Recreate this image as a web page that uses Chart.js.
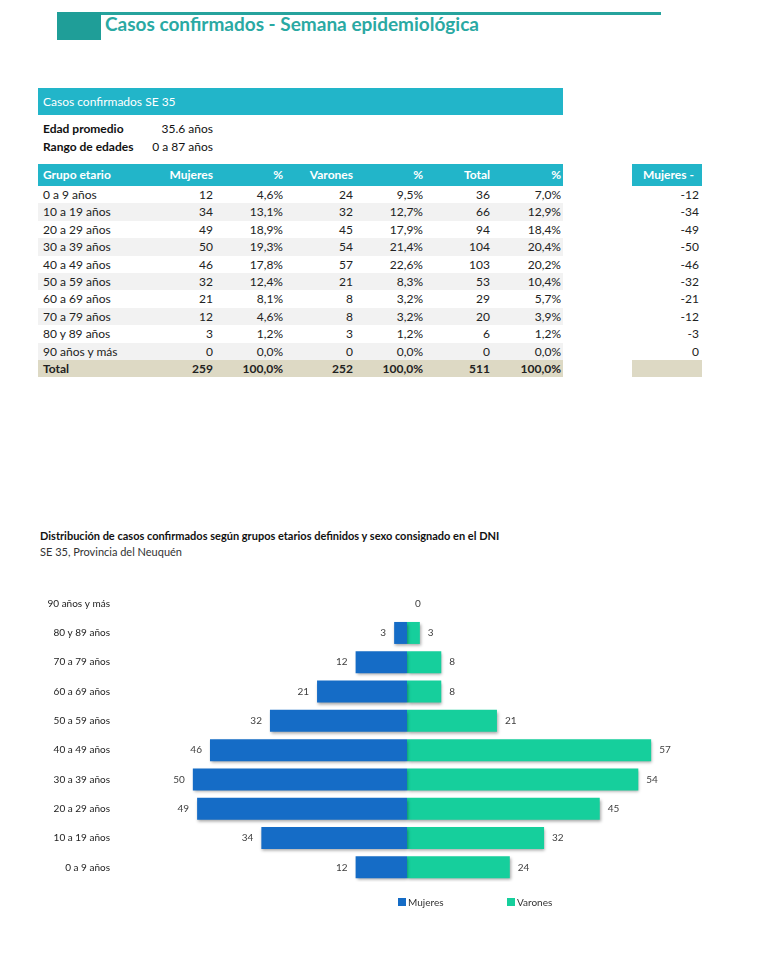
<!DOCTYPE html>
<html lang="es">
<head>
<meta charset="utf-8">
<script src="https://cdn.jsdelivr.net/npm/chart.js@4.4.1/dist/chart.umd.min.js"></script>
<style>
  body { margin: 0; background: #fff; font-family: Lato, "Open Sans", sans-serif; color: #222; }
  .abs { position: absolute; }
  #hdrLine { left: 57px; top: 12px; width: 604px; height: 3px; background: #26a39d; }
  #hdrBlock { left: 57px; top: 12px; width: 44px; height: 28px; background: #1f9e98; }
  #hdrTitle { left: 105px; top: 12px; font-size: 19px; font-weight: bold; color: #2aa9a3; white-space: nowrap; }
  #seBar { left: 38px; top: 88px; width: 525px; height: 27px; background: #22b5c9; color: #fff; font-size: 12px; line-height: 27px; padding-left: 5px; box-sizing: border-box; }
  .info { left: 43px; font-size: 12px; font-weight: bold; color: #111; }
  .infoVal { left: 140px; width: 73px; text-align: right; font-size: 12px; color: #111; }
  table { border-collapse: collapse; table-layout: fixed; font-size: 12px; color: #222; }
  td, th { padding: 0 2px 0 5px; height: 17.4px; line-height: 17.4px; text-align: right; white-space: nowrap; }
  th { background: #22b5c9; color: #fff; font-weight: bold; height: 22px; line-height: 22px; }
  th.l, td.l { text-align: left; }
  tr.alt td { background: #f2f2f2; }
  tr.tot td { background: #ddd9c4; font-weight: bold; }
  #tbl { left: 38px; top: 164px; width: 525px; }
  #tblNeg { left: 632px; top: 164px; width: 70px; }
  #tblNeg th { text-align: center; }
  #tblNeg td { padding-right: 3px; }
  #cTitle { left: 40px; top: 529px; font-size: 11px; font-weight: bold; color: #111; white-space: nowrap; }
  #cSub { left: 40px; top: 545px; font-size: 11px; color: #333; white-space: nowrap; }
  #myChart { position: absolute; left: 0; top: 585px; }
</style>
</head>
<body>
<div class="abs" id="hdrLine"></div>
<div class="abs" id="hdrBlock"></div>
<div class="abs" id="hdrTitle">Casos confirmados - Semana epidemiológica</div>

<div class="abs" id="seBar">Casos confirmados SE 35</div>
<div class="abs info" style="top:121px">Edad promedio</div>
<div class="abs infoVal" style="top:121px">35.6 años</div>
<div class="abs info" style="top:139px">Rango de edades</div>
<div class="abs infoVal" style="top:139px">0 a 87 años</div>

<table class="abs" id="tbl">
  <colgroup><col style="width:107px"><col style="width:70px"><col style="width:70px"><col style="width:70px"><col style="width:70px"><col style="width:67px"><col style="width:71px"></colgroup>
  <thead><tr><th class="l">Grupo etario</th><th>Mujeres</th><th>%</th><th>Varones</th><th>%</th><th>Total</th><th>%</th></tr></thead>
  <tbody id="tbody"></tbody>
</table>
<table class="abs" id="tblNeg">
  <thead><tr><th>Mujeres -</th></tr></thead>
  <tbody id="tbodyNeg"></tbody>
</table>

<div class="abs" id="cTitle">Distribución de casos confirmados según grupos etarios definidos y sexo consignado en el DNI</div>
<div class="abs" id="cSub">SE 35, Provincia del Neuquén</div>

<canvas id="myChart" width="760" height="330"></canvas>

<script>
// age groups, youngest first (as in the table)
const grupos = ['0 a 9 años', '10 a 19 años', '20 a 29 años', '30 a 39 años', '40 a 49 años',
  '50 a 59 años', '60 a 69 años', '70 a 79 años', '80 y 89 años', '90 años y más'];
const mujeres = [12, 34, 49, 50, 46, 32, 21, 12, 3, 0];
const mujeresPct = ['4,6%', '13,1%', '18,9%', '19,3%', '17,8%', '12,4%', '8,1%', '4,6%', '1,2%', '0,0%'];
const varones = [24, 32, 45, 54, 57, 21, 8, 8, 3, 0];
const varonesPct = ['9,5%', '12,7%', '17,9%', '21,4%', '22,6%', '8,3%', '3,2%', '3,2%', '1,2%', '0,0%'];
const totales = [36, 66, 94, 104, 103, 53, 29, 20, 6, 0];
const totalesPct = ['7,0%', '12,9%', '18,4%', '20,4%', '20,2%', '10,4%', '5,7%', '3,9%', '1,2%', '0,0%'];
const mujeresNeg = [-12, -34, -49, -50, -46, -32, -21, -12, -3, 0];
const totalRow = ['Total', 259, '100,0%', 252, '100,0%', 511, '100,0%'];

// build the tables
let html = '';
let htmlNeg = '';
grupos.forEach((g, i) => {
  const cls = i % 2 === 1 ? ' class="alt"' : '';
  html += '<tr' + cls + '><td class="l">' + g + '</td><td>' + mujeres[i] + '</td><td>' + mujeresPct[i] +
    '</td><td>' + varones[i] + '</td><td>' + varonesPct[i] + '</td><td>' + totales[i] + '</td><td>' + totalesPct[i] + '</td></tr>';
  htmlNeg += '<tr><td>' + mujeresNeg[i] + '</td></tr>';
});
html += '<tr class="tot">' + totalRow.map((v, j) => '<td' + (j === 0 ? ' class="l"' : '') + '>' + v + '</td>').join('') + '</tr>';
htmlNeg += '<tr class="tot"><td>&nbsp;</td></tr>';
document.getElementById('tbody').innerHTML = html;
document.getElementById('tbodyNeg').innerHTML = htmlNeg;

// value labels next to the bar ends + soft shadow under bars + legend
const barExtras = {
  id: 'barExtras',
  beforeDatasetsDraw(chart) {
    const ctx = chart.ctx;
    ctx.save();
    ctx.shadowColor = 'rgba(0,0,0,0.35)';
    ctx.shadowBlur = 3;
    ctx.shadowOffsetX = 1;
    ctx.shadowOffsetY = 2;
  },
  afterDatasetsDraw(chart) {
    const ctx = chart.ctx;
    ctx.restore();
    ctx.save();
    ctx.font = '10px Lato, sans-serif';
    ctx.fillStyle = '#404040';
    ctx.textBaseline = 'middle';
    chart.data.datasets.forEach((ds, di) => {
      chart.getDatasetMeta(di).data.forEach((bar, i) => {
        const v = ds.data[i];
        if (di === 0) {
          if (v === 0) return;
          ctx.textAlign = 'right';
          ctx.fillText(String(Math.abs(v)), bar.x - 8, bar.y);
        } else {
          ctx.textAlign = 'left';
          ctx.fillText(String(v), bar.x + 8, bar.y);
        }
      });
    });
    // legend
    const items = [{ x: 398, ds: chart.data.datasets[0] }, { x: 507, ds: chart.data.datasets[1] }];
    ctx.textAlign = 'left';
    items.forEach(it => {
      ctx.fillStyle = it.ds.backgroundColor;
      ctx.fillRect(it.x, 313, 8, 8);
      ctx.fillStyle = '#333';
      ctx.fillText(it.ds.label, it.x + 10, 317.5);
    });
    ctx.restore();
  }
};

const ctx = document.getElementById('myChart').getContext('2d');
const myChart = new Chart(ctx, {
  type: 'bar',
  data: {
    labels: grupos,
    datasets: [
      { label: 'Mujeres', data: mujeresNeg, backgroundColor: '#156cc6' },
      { label: 'Varones', data: varones, backgroundColor: '#16cf9c' }
    ]
  },
  options: {
    indexAxis: 'y',
    responsive: false,
    animation: false,
    layout: { padding: { top: 4, bottom: 33, right: 96 } },
    datasets: { bar: { barPercentage: 0.75, categoryPercentage: 1 } },
    plugins: {
      legend: { display: false },
      tooltip: { enabled: false }
    },
    scales: {
      x: { stacked: true, min: -60, max: 60, display: false },
      y: {
        stacked: true,
        reverse: true,
        grid: { display: false, drawTicks: false },
        border: { display: false },
        ticks: { padding: 40, color: '#222', font: { family: 'Lato', size: 10 } },
        afterFit(scale) {
          // fixed axis width; tick padding should not eat vertical space
          scale.width = 150;
          scale.paddingTop = 0;
          scale.paddingBottom = 0;
        }
      }
    }
  },
  plugins: [barExtras]
});
</script>
</body>
</html>
